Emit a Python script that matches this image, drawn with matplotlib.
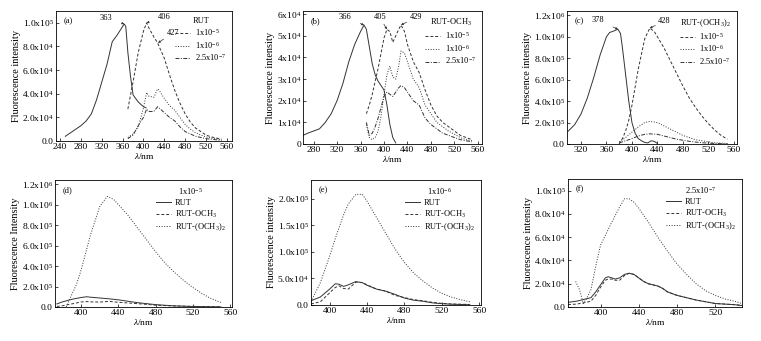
import matplotlib
matplotlib.use("Agg")
import matplotlib.pyplot as plt

plt.rcParams["font.family"] = "Liberation Serif"
plt.rcParams["mathtext.fontset"] = "custom"
plt.rcParams["mathtext.rm"] = "Liberation Serif"
plt.rcParams["mathtext.it"] = "Liberation Serif:italic"
plt.rcParams["axes.linewidth"] = 0.6

# ---------- data (intensities in units noted per panel) ----------
# (a) RUT, units 1e4
a_ex_x = [250, 260, 270, 280, 290, 300, 310, 320, 330, 340, 345, 350, 360, 363, 366, 370, 375, 380, 390, 400, 405]
a_ex_y = [0.4, 0.7, 1.0, 1.3, 1.7, 2.3, 3.5, 5.0, 6.5, 8.4, 8.7, 9.0, 9.7, 9.9, 9.7, 7.5, 5.5, 3.9, 3.3, 2.9, 2.8]
a_x = [370, 380, 390, 400, 406, 410, 420, 427, 430, 440, 450, 460, 470, 480, 490, 500, 510, 520, 530, 540, 550]
a_1e5 = [2.7, 5.0, 7.5, 9.3, 10.0, 9.6, 8.8, 8.3, 8.0, 7.0, 5.6, 4.3, 3.2, 2.3, 1.6, 1.1, 0.8, 0.5, 0.35, 0.25, 0.15]
a_1e6 = [0.3, 0.6, 1.2, 2.8, 4.1, 3.8, 3.7, 4.4, 4.3, 3.6, 3.0, 2.6, 2.0, 1.4, 1.0, 0.7, 0.5, 0.35, 0.25, 0.2, 0.1]
a_25e7 = [0.2, 0.5, 1.3, 2.0, 2.7, 2.5, 2.5, 2.9, 2.8, 2.4, 2.0, 1.7, 1.2, 0.8, 0.6, 0.4, 0.3, 0.2, 0.15, 0.1, 0.05]

# (b) RUT-OCH3, units 1e4
b_ex_x = [262, 270, 280, 290, 300, 310, 320, 330, 340, 350, 355, 360, 366, 370, 375, 380, 385, 390, 400, 405, 410, 415, 420]
b_ex_y = [0.4, 0.5, 0.6, 0.7, 1.0, 1.4, 2.0, 2.8, 3.8, 4.6, 4.9, 5.2, 5.5, 5.3, 4.5, 3.7, 3.2, 2.9, 2.5, 1.8, 0.9, 0.3, 0.05]
b_x = [370, 375, 380, 385, 390, 395, 400, 405, 410, 415, 420, 425, 429, 435, 440, 450, 460, 470, 480, 490, 500, 510, 520, 530, 540, 550]
b_1e5 = [1.4, 1.8, 2.3, 2.9, 3.5, 4.2, 4.9, 5.3, 5.2, 4.7, 5.0, 5.3, 5.5, 5.2, 4.6, 3.8, 3.3, 2.5, 1.8, 1.3, 1.0, 0.8, 0.6, 0.4, 0.3, 0.2]
b_1e6 = [0.9, 0.3, 0.2, 0.3, 0.6, 1.3, 2.3, 3.2, 3.6, 3.1, 3.0, 3.6, 4.3, 4.2, 3.8, 3.0, 2.6, 1.8, 1.4, 1.0, 0.8, 0.6, 0.45, 0.3, 0.2, 0.15]
b_25e7 = [1.0, 0.4, 0.5, 0.8, 1.2, 1.7, 2.2, 2.4, 2.3, 2.2, 2.4, 2.6, 2.7, 2.6, 2.4, 2.0, 1.8, 1.2, 0.9, 0.7, 0.5, 0.4, 0.3, 0.2, 0.15, 0.1]

# (c) RUT-(OCH3)2, units 1e5
c_ex_x = [300, 310, 320, 330, 340, 350, 360, 365, 370, 378, 382, 385, 390, 395, 400, 405, 410, 415, 420, 425, 430, 435, 440]
c_ex_y = [1.2, 1.8, 2.8, 4.3, 6.2, 8.3, 10.0, 10.4, 10.5, 10.7, 10.3, 9.0, 6.5, 4.0, 2.0, 1.0, 0.5, 0.3, 0.15, 0.1, 0.3, 0.25, 0.05]
c_x = [380, 385, 390, 395, 400, 410, 420, 428, 435, 440, 450, 460, 470, 480, 490, 500, 510, 520, 530, 540, 550]
c_1e5 = [0.0, 0.5, 1.2, 2.2, 3.6, 7.0, 9.8, 10.8, 10.5, 10.0, 9.0, 7.8, 6.6, 5.4, 4.3, 3.4, 2.6, 1.9, 1.3, 0.8, 0.45]
c_1e6 = [0.2, 0.4, 0.6, 0.85, 1.1, 1.6, 2.0, 2.1, 2.05, 2.0, 1.7, 1.4, 1.1, 0.8, 0.6, 0.4, 0.3, 0.2, 0.12, 0.08, 0.05]
c_25e7 = [0.1, 0.2, 0.3, 0.4, 0.5, 0.75, 0.9, 0.95, 0.92, 0.9, 0.75, 0.6, 0.45, 0.35, 0.25, 0.18, 0.12, 0.08, 0.05, 0.03, 0.02]

# (d) 1x10^-5, units 1e5
d_x = [374, 380, 390, 400, 406, 410, 420, 430, 440, 460, 480, 500, 520, 540, 550]
d_rut = [0.3, 0.5, 0.75, 0.93, 1.0, 0.96, 0.88, 0.8, 0.7, 0.43, 0.23, 0.11, 0.05, 0.025, 0.015]
d_och3 = [0.05, 0.12, 0.3, 0.49, 0.53, 0.5, 0.48, 0.55, 0.46, 0.33, 0.18, 0.1, 0.06, 0.03, 0.02]
d2_x = [384, 390, 395, 400, 410, 420, 428, 435, 440, 450, 460, 470, 480, 490, 500, 510, 520, 530, 540, 550]
d_och32 = [0.0, 1.2, 2.2, 3.6, 7.0, 9.8, 10.8, 10.5, 10.0, 9.0, 7.8, 6.6, 5.4, 4.3, 3.4, 2.6, 1.9, 1.3, 0.8, 0.45]

# (e) 1x10^-6, units 1e4
e_x = [380, 390, 400, 406, 410, 415, 420, 428, 435, 440, 450, 460, 470, 480, 490, 500, 510, 520, 530, 540, 550]
e_rut = [0.8, 1.5, 3.0, 4.0, 3.9, 3.5, 3.8, 4.4, 4.2, 3.7, 3.0, 2.6, 2.0, 1.3, 0.9, 0.7, 0.4, 0.25, 0.15, 0.1, 0.05]
e_och3 = [0.2, 0.6, 2.3, 3.3, 3.6, 3.1, 3.0, 4.3, 4.2, 3.8, 3.0, 2.6, 1.8, 1.4, 1.0, 0.8, 0.5, 0.3, 0.2, 0.15, 0.1]
e_och32 = [0.6, 4.2, 9.2, 12.5, 14.5, 17.0, 19.0, 20.8, 20.8, 19.5, 16.5, 13.5, 10.5, 8.0, 6.0, 4.5, 3.2, 2.2, 1.5, 1.0, 0.6]

# (f) 2.5x10^-7, units 1e4
f_x = [366, 375, 385, 390, 395, 400, 405, 408, 412, 415, 420, 425, 430, 435, 440, 445, 450, 460, 465, 470, 480, 490, 500, 510, 520, 530, 540, 548]
f_rut = [0.4, 0.5, 0.7, 0.8, 1.3, 1.9, 2.5, 2.6, 2.5, 2.4, 2.5, 2.8, 2.9, 2.8, 2.5, 2.2, 2.0, 1.8, 1.6, 1.3, 1.0, 0.8, 0.6, 0.45, 0.3, 0.25, 0.2, 0.12]
f_och3 = [0.2, 0.25, 0.4, 0.5, 1.0, 1.7, 2.3, 2.4, 2.4, 2.3, 2.3, 2.7, 2.9, 2.8, 2.5, 2.2, 2.0, 1.8, 1.6, 1.3, 1.0, 0.8, 0.6, 0.45, 0.3, 0.25, 0.2, 0.15]
f2_x = [374, 378, 382, 386, 390, 395, 400, 410, 420, 425, 430, 435, 440, 450, 460, 470, 480, 490, 500, 510, 520, 530, 540, 548]
f_och32 = [2.2, 1.5, 0.3, 0.8, 1.5, 3.5, 5.3, 7.0, 8.6, 9.3, 9.3, 9.0, 8.5, 7.3, 6.0, 4.8, 3.7, 2.8, 2.0, 1.4, 1.0, 0.7, 0.5, 0.3]

conc_labels = ["1x10$^{-5}$", "1x10$^{-6}$", "2.5x10$^{-7}$"]
comp_labels = ["RUT", "RUT-OCH$_3$", "RUT-(OCH$_3$)$_2$"]

a_yticks = [0, 2, 4, 6, 8, 10]
a_ylabels = ["0.0", "2.0x10$^4$", "4.0x10$^4$", "6.0x10$^4$", "8.0x10$^4$", "1.0x10$^5$"]
b_yticks = [0, 1, 2, 3, 4, 5, 6]
b_ylabels = ["0", "1x10$^4$", "2x10$^4$", "3x10$^4$", "4x10$^4$", "5x10$^4$", "6x10$^4$"]
c_yticks = [0, 2, 4, 6, 8, 10, 12]
c_ylabels = ["0.0", "2.0x10$^5$", "4.0x10$^5$", "6.0x10$^5$", "8.0x10$^5$", "1.0x10$^6$", "1.2x10$^6$"]
e_yticks = [0, 5, 10, 15, 20]
e_ylabels = ["0.0", "5.0x10$^4$", "1.0x10$^5$", "1.5x10$^5$", "2.0x10$^5$"]
f_yticks = [0, 2, 4, 6, 8, 10]
f_ylabels = ["0.0", "2.0x10$^4$", "4.0x10$^4$", "6.0x10$^4$", "8.0x10$^4$", "1.0x10$^5$"]

FS = 6.8
SFS = 6.0
LC = "#333333"
LW = 0.7

fig = plt.figure(figsize=(7.61, 3.41), dpi=100)
W, H = 761, 341


def add_ax(l, t, r, b):
    return fig.add_axes([l / W, 1 - b / H, (r - l) / W, (b - t) / H])


def style(ax, xlim, ylim, xticks, yticks, ylabels, tag, ylab="Fluorescence intensity"):
    ax.set_xlim(*xlim)
    ax.set_ylim(*ylim)
    ax.set_xticks(xticks)
    ax.set_xticklabels([str(t) for t in xticks], fontsize=FS)
    ax.set_yticks(yticks)
    ax.set_yticklabels(ylabels, fontsize=FS)
    ax.tick_params(direction="in", length=2, width=0.5, pad=1.5)
    ax.set_xlabel(r"$\mathit{\lambda}$/nm", fontsize=FS, labelpad=0)
    ax.set_ylabel(ylab, fontsize=FS + 0.6, labelpad=1)
    ax.text(0.045, 0.95, tag, transform=ax.transAxes, fontsize=SFS, va="top")


def legend(ax, title):
    ax.legend(title=title, loc="upper right", frameon=False, fontsize=SFS,
              title_fontsize=SFS, handlelength=1.8, handletextpad=0.5,
              labelspacing=0.2, borderaxespad=0.35)


def note(ax, txt, xy, xytext):
    ax.annotate(txt, xy=xy, xytext=xytext, fontsize=SFS, ha="center", va="center",
                arrowprops=dict(arrowstyle="-|>", lw=0.5, color=LC, mutation_scale=3,
                                shrinkA=5, shrinkB=0))


# ---------- (a) ----------
ax = add_ax(56, 11, 232, 141)
ax.plot(a_ex_x, a_ex_y, "-", color=LC, lw=LW)
ax.plot(a_x, a_1e5, "--", color=LC, lw=LW, dashes=(3, 2), label=conc_labels[0])
ax.plot(a_x, a_1e6, ":", color=LC, lw=LW, label=conc_labels[1])
ax.plot(a_x, a_25e7, "-.", color=LC, lw=LW, dashes=(4, 1.5, 1, 1.5), label=conc_labels[2])
style(ax, (232, 570), (0, 11), [240, 280, 320, 360, 400, 440, 480, 520, 560], a_yticks, a_ylabels, "(a)")
note(ax, "363", (363, 9.9), (328, 10.45))
note(ax, "406", (406, 10.0), (440, 10.5))
note(ax, "427", (428, 8.3), (456, 9.15))
legend(ax, "RUT")

# ---------- (b) ----------
ax = add_ax(303, 11, 482, 144)
ax.plot(b_ex_x, b_ex_y, "-", color=LC, lw=LW)
ax.plot(b_x, b_1e5, "--", color=LC, lw=LW, dashes=(3, 2), label=conc_labels[0])
ax.plot(b_x, b_1e6, ":", color=LC, lw=LW, label=conc_labels[1])
ax.plot(b_x, b_25e7, "-.", color=LC, lw=LW, dashes=(4, 1.5, 1, 1.5), label=conc_labels[2])
style(ax, (262, 567), (0, 6.15), [280, 320, 360, 400, 440, 480, 520, 560], b_yticks, b_ylabels, "(b)")
note(ax, "366", (366, 5.5), (333, 5.85))
note(ax, "405", (405, 5.3), (393, 5.85))
note(ax, "429", (429, 5.5), (454, 5.85))
legend(ax, comp_labels[1])

# ---------- (c) ----------
ax = add_ax(567, 11, 737, 144)
ax.plot(c_ex_x, c_ex_y, "-", color=LC, lw=LW)
ax.plot(c_x, c_1e5, "--", color=LC, lw=LW, dashes=(3, 2), label=conc_labels[0])
ax.plot(c_x, c_1e6, ":", color=LC, lw=LW, label=conc_labels[1])
ax.plot(c_x, c_25e7, "-.", color=LC, lw=LW, dashes=(4, 1.5, 1, 1.5), label=conc_labels[2])
style(ax, (298, 565), (0, 12.4), [320, 360, 400, 440, 480, 520, 560], c_yticks, c_ylabels, "(c)")
note(ax, "378", (378, 10.7), (346, 11.55))
note(ax, "428", (428, 10.8), (451, 11.45))
legend(ax, comp_labels[2])

# ---------- (d) ----------
ax = add_ax(55, 180, 232, 307)
ax.plot(d_x, d_rut, "-", color=LC, lw=LW, label=comp_labels[0])
ax.plot(d_x, d_och3, "--", color=LC, lw=LW, dashes=(3, 2), label=comp_labels[1])
ax.plot(d2_x, d_och32, ":", color=LC, lw=LW, label=comp_labels[2])
style(ax, (372, 562), (0, 12.4), [400, 440, 480, 520, 560], c_yticks, c_ylabels, "(d)",
      ylab="Fluorescence Intensity")
legend(ax, conc_labels[0])

# ---------- (e) ----------
ax = add_ax(311, 180, 481, 305)
ax.plot(e_x, e_rut, "-", color=LC, lw=LW, label=comp_labels[0])
ax.plot(e_x, e_och3, "--", color=LC, lw=LW, dashes=(3, 2), label=comp_labels[1])
ax.plot(e_x, e_och32, ":", color=LC, lw=LW, label=comp_labels[2])
style(ax, (380, 562), (0, 23.5), [400, 440, 480, 520, 560], e_yticks, e_ylabels, "(e)")
legend(ax, conc_labels[1])

# ---------- (f) ----------
ax = add_ax(568, 179, 742, 307)
ax.plot(f_x, f_rut, "-", color=LC, lw=LW, label=comp_labels[0])
ax.plot(f_x, f_och3, "--", color=LC, lw=LW, dashes=(3, 2), label=comp_labels[1])
ax.plot(f2_x, f_och32, ":", color=LC, lw=LW, label=comp_labels[2])
style(ax, (366, 548), (0, 11), [400, 440, 480, 520], f_yticks, f_ylabels, "(f)")
legend(ax, conc_labels[2])

fig.savefig("out.png", dpi=100)
